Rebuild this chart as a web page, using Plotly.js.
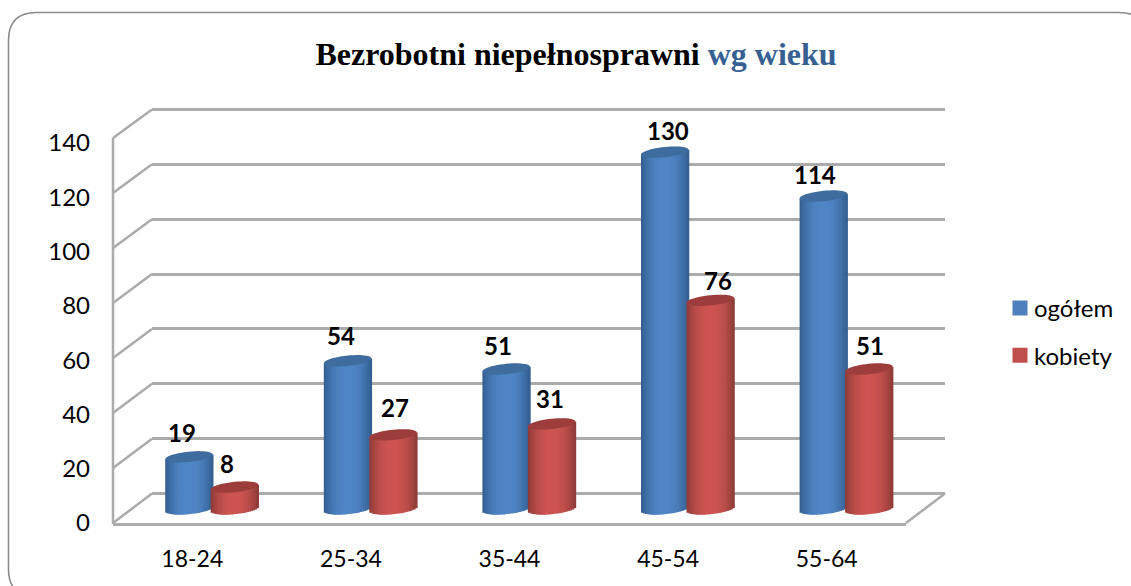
<!DOCTYPE html>
<html>
<head>
<meta charset="utf-8">
<script src="https://cdn.plot.ly/plotly-3.0.1.min.js"></script>
<style>html,body{margin:0;padding:0;background:#fff;overflow:hidden}</style>
</head>
<body>
<div id="chart" style="width:1131px;height:586px"></div>
<script>
// Data
const categories = ['18-24', '25-34', '35-44', '45-54', '55-64'];
const ogolem = [19, 54, 51, 130, 114];
const kobiety = [8, 27, 31, 76, 51];
const yTicks = [0, 20, 40, 60, 80, 100, 120, 140];

// Hand placement of the value labels, in pixels (separate from the data)
const ogolemLabelDx = [-7, -7, -8, 3.5, -8];
const ogolemLabelDy = [24, 25, 24, 22, 22];
const kobietyLabelDx = [-7, 2, -2, 7.5, 1];
const kobietyLabelDy = [24, 27, 25, 20, 24];

// Geometry
const W = 1131, H = 586;
const px = p => p / W, py = p => 1 - p / H;
const yMax = 140, yPad = 6;
const back = {l: 152, r: 945, y0: 493.5, yT: 109.5};
const mid = {l: 132.4, r: 925.4, y0: 509, yT: 124.7};
const front = {l: 113, r: 906, y0: 523, yT: 138};
const labelPlane = {y0: 523, yT: 143};
const unit = (mid.y0 - mid.yT) / yMax;            // px per value
const catW = (mid.r - mid.l) / categories.length; // px per category
const barPx = 47.5, offPx = 22.75;
const rxU = (barPx / 2) / catW, ryU = 5.2 / unit, tiltU = 2.4 / unit;
const STRIPS = 24;
const idx = categories.map((_, i) => i);

function hex(c) { return 'rgb(' + c.map(Math.round).join(',') + ')'; }
function mix(a, b, t) { return a.map((v, i) => v + (b[i] - v) * t); }
// y-domain of a plane whose axis range is padded by yPad units at both ends
function paddedDomain(p) {
  const u = (p.y0 - p.yT) / yMax;
  return [py(p.y0 + yPad * u), py(p.yT - yPad * u)];
}

const series = [
  {name: 'ogółem', vals: ogolem, sign: -1, legend: '#4f81bd', center: [80, 134, 199], edge: [50, 92, 142], cap: '#3f6c9f', dx: ogolemLabelDx, dy: ogolemLabelDy},
  {name: 'kobiety', vals: kobiety, sign: 1, legend: '#c0504d', center: [205, 84, 81], edge: [140, 58, 56], cap: '#9c3d3b', dx: kobietyLabelDx, dy: kobietyLabelDy}
];

const traces = [];
traces.push({type: 'scatter', x: [0], y: [0], xaxis: 'x', yaxis: 'y', mode: 'none', showlegend: false, hoverinfo: 'skip'});
traces.push({type: 'scatter', x: idx, y: idx.map(() => 0), xaxis: 'x3', yaxis: 'y3', mode: 'none', showlegend: false, hoverinfo: 'skip'});

const shapes = [];
const annotations = [];

series.forEach(s => {
  const c0 = s.sign * offPx / catW;
  traces.push({type: 'bar', name: s.name, legendgroup: s.name, x: idx, y: s.vals, xaxis: 'x2', yaxis: 'y2',
    width: 0.05, offset: c0 - 0.025, cliponaxis: false, hoverinfo: 'skip',
    marker: {color: s.legend, line: {color: s.legend, width: 3}}});
  for (let k = 0; k < STRIPS; k++) {
    const t = -1 + (k + 0.5) * 2 / STRIPS;
    const shade = Math.pow(Math.abs(t), 2.2);
    const lowU = ryU * Math.sqrt(Math.max(0, 1 - t * t)) - tiltU * t;
    const topAdd = tiltU * t;
    traces.push({type: 'bar', x: idx, y: s.vals.map(v => v + topAdd + lowU), base: s.vals.map(() => -lowU),
      xaxis: 'x2', yaxis: 'y2', legendgroup: s.name, showlegend: false, hoverinfo: 'skip', cliponaxis: false,
      width: rxU * 2 / STRIPS * 1.4, offset: c0 + t * rxU - rxU / STRIPS,
      marker: {color: hex(mix(s.center, s.edge, shade)), line: {width: 0}}});
  }
  s.vals.forEach((v, i) => {
    const cx = i + c0;
    let d = '';
    for (let a = 0; a < 48; a++) {
      const th = a / 48 * 2 * Math.PI;
      const ct = Math.cos(th), st = Math.sin(th);
      d += (a ? 'L' : 'M') + (cx + rxU * ct).toFixed(4) + ',' + (v + tiltU * ct + ryU * st).toFixed(3);
    }
    shapes.push({type: 'path', xref: 'x2', yref: 'y2', path: d + 'Z', fillcolor: s.cap, line: {width: 0}, layer: 'above'});
    annotations.push({xref: 'x2', yref: 'y2', x: cx, y: v, text: String(v), showarrow: false,
      xshift: s.dx[i], yshift: s.dy[i], xanchor: 'center', yanchor: 'middle',
      font: {family: 'Lato, Carlito, sans-serif', size: 24, color: '#000', weight: 700}});
  });
});

// Walls
const wall = '#ababab';
yTicks.forEach(v => {
  const f = front.y0 - (front.y0 - front.yT) * v / yMax;
  const b = back.y0 - (back.y0 - back.yT) * v / yMax;
  shapes.push({type: 'line', xref: 'paper', yref: 'paper', x0: px(front.l), y0: py(f), x1: px(back.l), y1: py(b),
    line: {color: wall, width: 2.5}, layer: 'below'});
});
shapes.push({type: 'line', xref: 'paper', yref: 'paper', x0: px(front.r), y0: py(front.y0), x1: px(back.r), y1: py(back.y0),
  line: {color: wall, width: 2.5}, layer: 'below'});
shapes.push({type: 'line', xref: 'paper', yref: 'paper', x0: px(front.l), y0: py(front.y0 + 1), x1: px(front.l), y1: py(front.yT),
  line: {color: wall, width: 2.5}, layer: 'below'});

// Rounded outer frame, running off the page on the right and bottom
const fl = 8.5, ft = 12.5, fr = 1147, fb = 597, rad = 28;
const P = (x, y) => px(x) + ',' + py(y);
shapes.push({type: 'path', xref: 'paper', yref: 'paper', layer: 'below', line: {color: '#8c8c8c', width: 1.6},
  path: 'M' + P(fl + rad, ft) + 'L' + P(fr - rad, ft) +
    'Q' + P(fr, ft) + ' ' + P(fr, ft + rad) + 'L' + P(fr, fb - rad) +
    'Q' + P(fr, fb) + ' ' + P(fr - rad, fb) + 'L' + P(fl + rad, fb) +
    'Q' + P(fl, fb) + ' ' + P(fl, fb - rad) + 'L' + P(fl, ft + rad) +
    'Q' + P(fl, ft) + ' ' + P(fl + rad, ft) + 'Z'});

const catRange = [-0.5, categories.length - 0.5];
const valRange = [-yPad, yMax + yPad];
const hidden = {showgrid: false, zeroline: false, showline: false, showticklabels: false, ticks: ''};
const layout = {
  width: W, height: H, autosize: false,
  margin: {l: 0, r: 0, t: 0, b: 0, pad: 0},
  paper_bgcolor: '#ffffff', plot_bgcolor: 'rgba(0,0,0,0)',
  barmode: 'overlay', hovermode: false,
  font: {family: 'Lato, Carlito, sans-serif', color: '#000'},
  title: {
    text: 'Bezrobotni niepełnosprawni <span style="color:#366092">wg wieku</span>',
    x: px(576), xanchor: 'center', y: py(54), yanchor: 'middle',
    font: {family: '"Liberation Serif", serif', size: 32, color: '#000', weight: 700}
  },
  xaxis: Object.assign({}, hidden, {domain: [px(back.l), px(back.r)], range: catRange, anchor: 'y'}),
  yaxis: Object.assign({}, hidden, {domain: paddedDomain(back), range: valRange, anchor: 'x',
    showgrid: true, gridcolor: wall, gridwidth: 3, tickmode: 'array', tickvals: yTicks}),
  xaxis2: Object.assign({}, hidden, {domain: [px(mid.l), px(mid.r)], range: catRange, anchor: 'y2'}),
  yaxis2: Object.assign({}, hidden, {domain: paddedDomain(mid), range: valRange, anchor: 'x2'}),
  xaxis3: {domain: [px(front.l), px(front.r)], range: catRange, anchor: 'y3', showgrid: false, zeroline: false,
    showline: true, linecolor: wall, linewidth: 3, ticks: '', tickmode: 'array', tickvals: idx, ticktext: categories,
    ticklabelstandoff: 13, tickfont: {family: 'Lato, Carlito, sans-serif', size: 23, color: '#000'}},
  yaxis3: {domain: [py(labelPlane.y0), py(labelPlane.yT)], range: [0, yMax], anchor: 'x3', showgrid: false, zeroline: false,
    showline: false, ticks: '', tickmode: 'array', tickvals: yTicks,
    ticklabelstandoff: 22, tickfont: {family: 'Lato, Carlito, sans-serif', size: 24, color: '#000'}},
  showlegend: true,
  legend: {x: px(994), xanchor: 'left', y: py(286), yanchor: 'top', bgcolor: 'rgba(0,0,0,0)', borderwidth: 0,
    tracegroupgap: 13, itemwidth: 30, itemclick: false, itemdoubleclick: false,
    font: {family: 'Lato, Carlito, sans-serif', size: 24, color: '#000'}},
  shapes, annotations
};
Plotly.newPlot('chart', traces, layout, {displayModeBar: false, responsive: false}).then(() => {
  // Legend keys sit nearer their text in the reference
  document.querySelectorAll('.legend .legendsymbols').forEach(g => g.setAttribute('transform', 'translate(6,0)'));
});
</script>
</body>
</html>
